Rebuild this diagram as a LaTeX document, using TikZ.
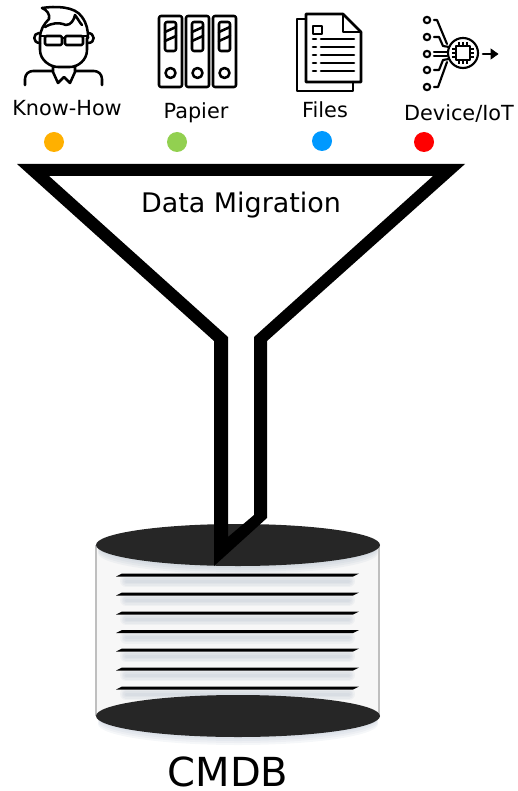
\documentclass[tikz,border=0pt]{standalone}
\usepackage{fontspec}
\setmainfont{DejaVu Sans}
\usetikzlibrary{positioning}
\definecolor{dbdark}{HTML}{262626}
\definecolor{dbshadow}{HTML}{8496B0}
\definecolor{dbbody}{HTML}{F7F7F7}
\definecolor{dotorange}{HTML}{FFB000}
\definecolor{dotgreen}{HTML}{92D050}
\definecolor{dotblue}{HTML}{0099FF}
\tikzset{
  icon/.style={line width=1.9pt,line join=round,line cap=round},
  thinicon/.style={line width=1.6pt,line join=round,line cap=round},
  srclabel/.style={font=\fontsize{15.6pt}{18pt}\selectfont,inner sep=0pt},
  srcdot/.style={circle,minimum size=15pt,inner sep=0pt},
}
\begin{document}
\begin{tikzpicture}[x=0.75pt,y=-0.75pt]
\useasboundingbox (0,0) rectangle (517,791);
% person
\draw[icon] (40,38)--(40,50) .. controls (40,60) and (50,67) .. (58,67)--(70,67) .. controls (78,67) and (87,60) .. (87,50)--(87,38);
\draw[icon] (42,8) .. controls (55,6) and (75,6) .. (82,17) .. controls (87,24) and (88,30) .. (88,38);
\draw[icon] (42,8) .. controls (47,10) and (50,14) .. (49,19) .. controls (44,24) and (40,30) .. (40,38);
\draw[icon] (45,27) .. controls (52,23) and (58,22) .. (66,25) .. controls (71,25) and (74,20) .. (75,15) .. controls (78,19) and (80,23) .. (82,25);
\draw[icon] (39,33) .. controls (33,33) and (32,43) .. (40,43);
\draw[icon] (88,33) .. controls (95,33) and (96,43) .. (88,43);
\draw[icon,rounded corners=1pt] (45,36) rectangle (62,45);
\draw[icon,rounded corners=1pt] (65,36) rectangle (83,45);
\draw[icon] (40,36)--(45,36) (62,38)--(65,38) (83,36)--(87,36);
\draw[icon] (25,85)--(25,79) .. controls (25,74) and (29,71) .. (33,71)--(52,71);
\draw[icon] (102,85)--(102,79) .. controls (102,74) and (98,71) .. (94,71)--(76,71);
\draw[icon] (53,66)--(53,72)--(58,83)--(64,77)--(70,83)--(75,72)--(75,66);
% binders
\foreach \x in {159,186,213}{
  \draw[icon,rounded corners=1.5pt] (\x,16) rectangle ++(23,71);
  \draw[icon,rounded corners=1.5pt] (\x+6,22) rectangle ++(11,29);
  \draw[icon] (\x+6,32)--(\x+17,27) (\x+6,41)--(\x+17,36);
  \draw[icon] (\x+11.5,73) circle [radius=5];
}
% files
\draw[icon] (306,19)--(297,19)--(297,91)--(353,91)--(353,82);
\draw[icon] (306,82)--(306,14)--(343,14)--(361,32)--(361,82)--cycle;
\draw[icon] (343,14)--(343,32)--(361,32);
\draw[icon] (313,26) rectangle (322,34);
\foreach \y in {39,47,55,63,71}{
  \draw[icon] (313,\y)--(316,\y) (321,\y)--(354,\y);
}
% device
\foreach \y in {20,37,54,70,87}{
  \draw[thinicon] (427,\y) circle [radius=3.2];
}
\draw[thinicon] (434,20)--(437,20)--(447,44);
\draw[thinicon] (434,37)--(439,37)--(443,46)--(449,47);
\draw[thinicon] (434,52)--(447,52) (434,56)--(447,56);
\draw[thinicon] (434,70)--(439,70)--(443,60)--(449,59);
\draw[thinicon] (434,87)--(438,87)--(447,62);
\draw[thinicon] (463,53) circle [radius=15];
\draw[thinicon] (456,46) rectangle (470,60);
\foreach \t in {-4,0,4}{
  \draw[line width=0.8pt] (463+\t,42)--(463+\t,46) (463+\t,60)--(463+\t,64) (452,53+\t)--(456,53+\t) (470,53+\t)--(474,53+\t);
}
\draw[icon] (483,54)--(491,54);
\draw[fill=black] (491,49)--(498,54)--(491,59)--cycle;
% labels and dots
\node[srclabel] (knowhow) at (67,108) {Know-How};
\node[srclabel] (papier) at (196,113) {Papier};
\node[srclabel] (files) at (325,110) {Files};
\node[srclabel] (device) at (459,114) {Device/IoT};
\node[srcdot,fill=dotorange] (dotknowhow) at (54,142) {};
\node[srcdot,fill=dotgreen] (dotpapier) at (177,142) {};
\node[srcdot,fill=dotblue] (dotfiles) at (322,141) {};
\node[srcdot,fill=red] (dotdevice) at (424,142) {};
% database
\foreach \o in {2,4,...,8}{
  \fill[dbshadow,opacity=0.08] (238,716+\o) ellipse [x radius=140,y radius=21];
}
\fill[dbbody] (96,545) rectangle (379,716);
\draw[black!25,line width=0.8pt] (96,545)--(96,716) (379,545)--(379,716);
\foreach \o in {2,4,...,8}{
  \fill[dbshadow,opacity=0.08] (238,545+\o) ellipse [x radius=140,y radius=21];
}
\foreach \y in {575,594,613,631.5,650,669,688}{
  \foreach \w in {3,6,9,12}{
    \draw[dbshadow,opacity=0.07,line cap=round,line width=\w*0.75pt] (126,\y+6)--(349,\y+6);
  }
  \fill[black] (116,\y+1.5)--(122,\y-1.5)--(359,\y-1.5)--(353,\y+1.5)--cycle;
}
\fill[dbdark] (238,545) ellipse [x radius=142,y radius=21];
\fill[dbdark] (238,716) ellipse [x radius=142,y radius=21];
% funnel
\fill[black,even odd rule] (17,164)--(465,164)--(267,341)--(267,518)--(214,566)--(214,341)--cycle
(49,176)--(433,176)--(254,337)--(254,515)--(228,537)--(228,337)--cycle;
\node[inner sep=0pt,font=\fontsize{20.2pt}{24pt}\selectfont] (migration) at (241,205) {Data Migration};
\node[inner sep=0pt,font=\fontsize{30pt}{36pt}\selectfont] (cmdb) at (228,772) {CMDB};
\end{tikzpicture}
\end{document}
